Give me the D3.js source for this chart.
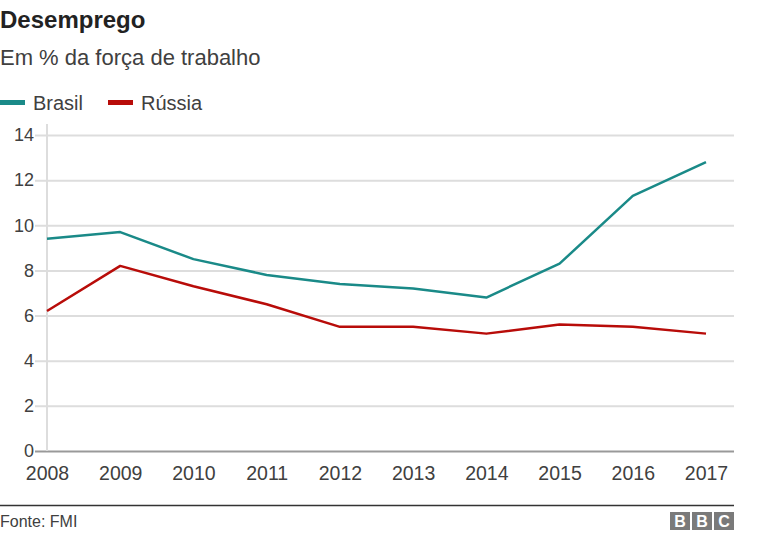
<!DOCTYPE html>
<html><head><meta charset="utf-8">
<script src="https://cdn.jsdelivr.net/npm/d3@7"></script>
<style>
body{margin:0;background:#fff;}
svg{font-family:"Liberation Sans",Arial,Helvetica,sans-serif;}
</style></head>
<body><svg id="c" width="774" height="535"></svg>
<script>
const years = [2008,2009,2010,2011,2012,2013,2014,2015,2016,2017];
const brasil = [9.4,9.7,8.5,7.8,7.4,7.2,6.8,8.3,11.3,12.8];
const russia = [6.2,8.2,7.3,6.5,5.5,5.5,5.2,5.6,5.5,5.2];
const yTicks = [0,2,4,6,8,10,12,14];
const seriesNames = ["Brasil","Rússia"];
const colors = ["#1a8a88","#b80c09"];

const svg = d3.select("#c");
const x = d3.scalePoint().domain(years).range([47,706]);
const y = d3.scaleLinear().domain([0,14]).range([451,135]);
const FF = "\"Liberation Sans\",Arial,sans-serif";

svg.append("text").attr("x",0).attr("y",28).attr("font-size",24).attr("font-weight","bold").attr("fill","#222").text("Desemprego");
svg.append("text").attr("x",0).attr("y",65).attr("font-size",22).attr("fill","#404040").text("Em % da força de trabalho");

// legend
const lg = svg.append("g");
const lx = [0,108];
seriesNames.forEach((n,i)=>{
  lg.append("rect").attr("x",lx[i]).attr("y",100).attr("width",25).attr("height",5).attr("fill",colors[i]);
  lg.append("text").attr("x",lx[i]+33).attr("y",110).attr("font-size",20).attr("fill","#404040").text(n);
});

// y grid
const yAxis = svg.append("g").attr("transform","translate(734,0)")
  .call(d3.axisLeft(y).tickValues(yTicks).tickSize(699).tickPadding(1).tickFormat(d3.format("d")));
yAxis.select(".domain").remove();
yAxis.selectAll(".tick line").attr("stroke",d=>d===0?"#999":"#ddd").attr("stroke-width",2);
yAxis.selectAll(".tick text").attr("font-size",18).attr("fill","#404040").attr("font-family",FF);

// vertical axis line
svg.append("line").attr("x1",47).attr("x2",47).attr("y1",124).attr("y2",451).attr("stroke","#ddd").attr("stroke-width",2);

// x axis
const xAxis = svg.append("g").attr("transform","translate(0,451)")
  .call(d3.axisBottom(x).tickSize(0).tickPadding(15));
xAxis.select(".domain").remove();
xAxis.selectAll(".tick text").attr("font-size",19.5).attr("fill","#404040").attr("font-family",FF);

const line = d3.line().x((d,i)=>x(years[i])).y(d=>y(d));
[brasil,russia].forEach((s,i)=>{
  svg.append("path").datum(s).attr("d",line).attr("fill","none").attr("stroke",colors[i]).attr("stroke-width",2.5).attr("stroke-linejoin","round");
});

// footer
svg.append("line").attr("x1",0).attr("x2",734).attr("y1",505.5).attr("y2",505.5).attr("stroke","#333").attr("stroke-width",1.5);
svg.append("text").attr("x",0).attr("y",527).attr("font-size",16).attr("fill","#404040").text("Fonte: FMI");
const bbc = svg.append("g");
["B","B","C"].forEach((l,i)=>{
  bbc.append("rect").attr("x",670+i*22).attr("y",512).attr("width",20).attr("height",18).attr("fill","#7a7a7a");
  bbc.append("text").attr("x",680+i*22).attr("y",527).attr("text-anchor","middle").attr("font-size",16).attr("font-weight","bold").attr("fill","#fff").text(l);
});
</script></body></html>
